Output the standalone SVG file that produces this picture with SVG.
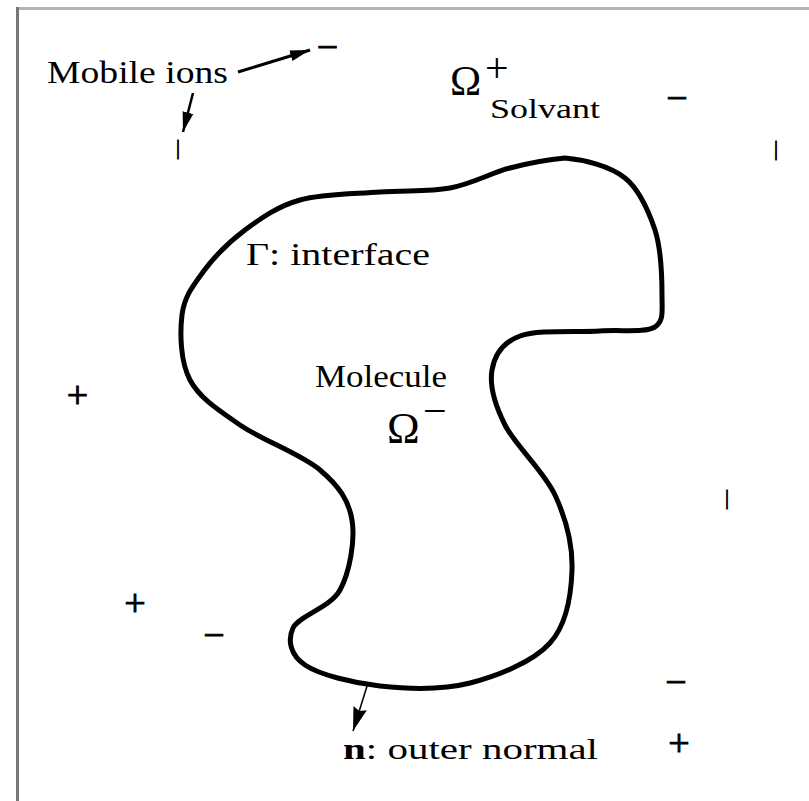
<svg xmlns="http://www.w3.org/2000/svg" width="809" height="801" viewBox="0 0 809 801">
<style>
.t{font-family:"Liberation Serif","Times New Roman",serif;fill:#000}
.sym{font-family:"Liberation Serif","Times New Roman",serif;fill:#000;stroke:#000;stroke-width:0.9px;font-size:38px;text-anchor:middle}
.bar{font-family:"Liberation Serif","Times New Roman",serif;fill:#000;stroke:#000;stroke-width:0.8px;font-size:20px;text-anchor:middle}
.ar{stroke:#000;fill:none}
</style>
<defs>
<marker id="ah" markerUnits="userSpaceOnUse" markerWidth="24" markerHeight="16" refX="20" refY="7" orient="auto" viewBox="0 0 24 14">
<path d="M0,1.5 L20,7 L0,12.5 Z" fill="#000"/>
</marker>
<marker id="ahn" markerUnits="userSpaceOnUse" markerWidth="26" markerHeight="16" refX="24" refY="8" orient="auto" viewBox="0 0 26 16">
<path d="M0,1 L24,8 L0,15 L3,8 Z" fill="#000"/>
</marker>
</defs>
<rect width="809" height="801" fill="#fff"/>
<g id="frame">
<rect x="16" y="7" width="793" height="3" fill="#b5b5b5"/>
<rect x="16" y="7" width="3" height="794" fill="#777"/>
</g>
<g id="molecule">
<path d="M565,158 C584.2,159.7 610,166 625,178 C640,190 648.7,211.3 655,230 C661.2,249.5 662,278.8 662,295 C662,311.2 664,321 655,327 C644.7,333 622.5,329.5 600,331 C577.5,332.5 538,329.5 520,336 C502,342.5 494.5,355.2 492,370 C489.5,384.8 494.5,404.2 505,425 C515.5,445.8 543.8,470.8 555,495 C566.2,519.2 572.8,545.3 572,570 C571.2,594.7 567,624.2 550,643 C533,661.8 498.3,675.8 470,683 C441.7,690.2 407.5,689 380,686 C352.5,683 319.5,674.7 305,665 C290.5,655.3 287.2,640.5 293,628 C298.8,615.5 330.2,608 340,590 C349.8,572 355.3,540 352,520 C348.7,500 338.7,485.8 320,470 C301.3,454.2 261.7,440 240,425 C218.3,410 199.7,398.3 190,380 C180.3,361.7 179.8,333 182,315 C184.2,297 192.5,286.2 203,272 C213.5,257.8 228.8,242 245,230 C261.2,218 277.5,206.3 300,200 C322.5,193.7 355,194 380,192 C405,190 428.3,192 450,188 C471.7,184 490.8,173 510,168 C529.2,163 545.8,159.7 565,158 Z" fill="none" stroke="#000" stroke-width="5"/>
<text class="t" x="315" y="387" font-size="31" textLength="132" lengthAdjust="spacingAndGlyphs">Molecule</text>
<text class="t" x="387" y="443" font-size="44">Ω</text>
<text class="t" x="423" y="425" font-size="42">−</text>
</g>
<g id="interface-label">
<text class="t" x="246" y="265" font-size="31" textLength="184" lengthAdjust="spacingAndGlyphs">Γ: interface</text>
</g>
<g id="solvent">
<text class="t" x="450" y="95" font-size="42">Ω</text>
<text class="t" x="485" y="82" font-size="42">+</text>
<text class="t" x="490" y="118" font-size="28" textLength="110" lengthAdjust="spacingAndGlyphs">Solvant</text>
</g>
<g id="mobile-ions">
<text class="t" x="47" y="83" font-size="31" textLength="181" lengthAdjust="spacingAndGlyphs">Mobile ions</text>
</g>
<g id="normal-label">
<text class="t" x="343" y="759" font-size="30" textLength="255" lengthAdjust="spacingAndGlyphs"><tspan font-weight="bold">n</tspan>: outer normal</text>
</g>
<g id="ions">
<text class="sym" x="327.5" y="60">−</text>
<text class="sym" x="677" y="110.5">−</text>
<text class="bar" x="776" y="154.5">|</text>
<text class="bar" x="178" y="153.5">|</text>
<text class="sym" x="77.5" y="408">+</text>
<text class="bar" x="727" y="503.5">|</text>
<text class="sym" x="135" y="615.5">+</text>
<text class="sym" x="214" y="647.5">−</text>
<text class="sym" x="676" y="694.5">−</text>
<text class="sym" x="679" y="755.5">+</text>
</g>
<g id="connectors">
<line class="ar" x1="238" y1="72" x2="310" y2="50" stroke-width="3" marker-end="url(#ah)"/>
<line class="ar" x1="193" y1="93" x2="183" y2="132" stroke-width="2.5" marker-end="url(#ah)"/>
<line class="ar" x1="368" y1="683" x2="353" y2="731" stroke-width="1.5" marker-end="url(#ahn)"/>
</g>
</svg>
